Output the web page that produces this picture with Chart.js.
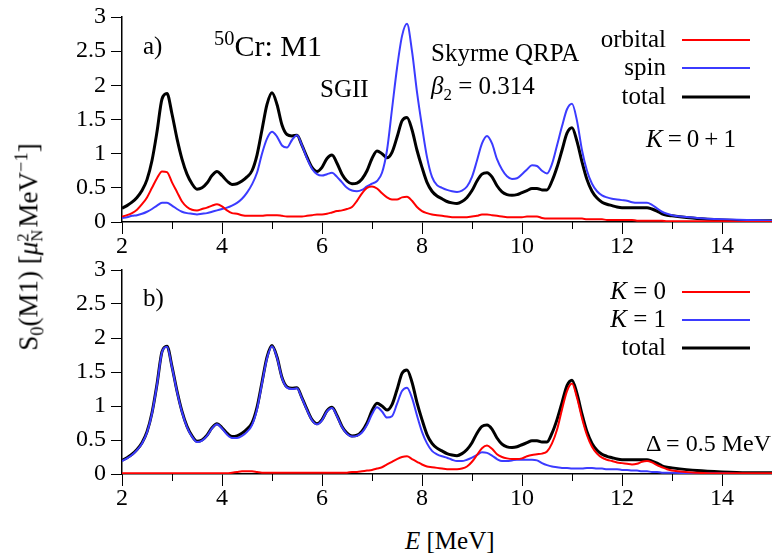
<!DOCTYPE html>
<html>
<head>
<meta charset="utf-8">
<script src="https://cdn.jsdelivr.net/npm/chart.js@4.4.1/dist/chart.umd.min.js"></script>
<style>
  body { margin: 0; background: #fff; font-family: "Liberation Serif", "DejaVu Serif", serif; }
  #wrap { position: relative; width: 772px; height: 557px; overflow: hidden; }
  canvas { position: absolute; left: 0; }
  .t { position: absolute; font-size: 25px; line-height: 25px; white-space: nowrap; color: #000; }
  .t sup, .t sub { font-size: 0.68em; line-height: 0; }
</style>
</head>
<body>
<div id="wrap">
  <canvas id="chartTop" width="772" height="258" style="top:0"></canvas>
  <canvas id="chartBot" width="772" height="257" style="top:253px"></canvas>

  <div class="t" style="left:143px;top:33px">a)</div>
  <div class="t" style="left:214px;top:31px;font-size:30px;line-height:30px"><sup>50</sup>Cr: M1</div>
  <div class="t" style="left:320px;top:76px">SGII</div>
  <div class="t" style="left:431px;top:40px">Skyrme QRPA</div>
  <div class="t" style="left:431px;top:73px"><i>β</i><sub>2</sub> = 0.314</div>
  <div class="t" style="left:646px;top:126px"><i>K</i>&#8201;=&#8201;0&#8201;+&#8201;1</div>
  <div class="t" style="left:143px;top:285px">b)</div>
  <div class="t" style="left:646px;top:431px;font-size:24px">Δ = 0.5 MeV</div>
  <div class="t" style="left:405px;top:528px"><i>E</i> [MeV]</div>
  <div class="t" style="left:30px;top:247px;font-size:27px;line-height:27px;transform:translate(-50%,-50%) rotate(-90deg)">S<sub>0</sub>(M1) [<i>μ</i><span style="display:inline-block;vertical-align:-0.3em;font-size:0.62em;line-height:0.85em;text-align:left">2<br>N</span>&#8202;MeV<sup>−1</sup>]</div>
</div>

<script>
// energie (MeV)
const energia = [2.0,2.1,2.2,2.3,2.4,2.5,2.6,2.7,2.8,2.9,3.0,3.1,3.2,3.3,3.4,3.5,3.6,3.7,3.8,3.9,
  4.0,4.1,4.2,4.3,4.4,4.5,4.6,4.7,4.8,4.9,5.0,5.1,5.2,5.3,5.4,5.5,5.6,5.7,5.8,5.9,
  6.0,6.1,6.2,6.3,6.4,6.5,6.6,6.7,6.8,6.9,7.0,7.1,7.2,7.3,7.4,7.5,7.6,7.7,7.8,7.9,
  8.0,8.1,8.2,8.3,8.4,8.5,8.6,8.7,8.8,8.9,9.0,9.1,9.2,9.3,9.4,9.5,9.6,9.7,9.8,9.9,
  10.0,10.1,10.2,10.3,10.4,10.5,10.6,10.7,10.8,10.9,11.0,11.1,11.2,11.3,11.4,11.5,11.6,11.7,11.8,11.9,
  12.0,12.1,12.2,12.3,12.4,12.5,12.6,12.7,12.8,12.9,13.0,13.5,14.0,14.5,15.0]

// panel a)
const orbital = [0.08,0.10,0.13,0.18,0.26,0.36,0.50,0.64,0.74,0.73,0.58,0.44,0.30,0.22,0.18,0.17,0.19,0.21,0.24,0.26,
  0.23,0.17,0.13,0.12,0.10,0.09,0.09,0.09,0.09,0.10,0.10,0.10,0.09,0.08,0.08,0.08,0.08,0.09,0.10,0.11,
  0.11,0.12,0.14,0.16,0.17,0.19,0.22,0.31,0.42,0.50,0.52,0.49,0.42,0.36,0.33,0.33,0.36,0.37,0.31,0.22,
  0.16,0.13,0.11,0.10,0.09,0.08,0.07,0.07,0.07,0.07,0.08,0.09,0.11,0.11,0.10,0.09,0.08,0.07,0.07,0.07,
  0.07,0.08,0.08,0.08,0.06,0.05,0.05,0.05,0.05,0.05,0.05,0.05,0.05,0.04,0.04,0.04,0.04,0.03,0.03,0.03,
  0.03,0.03,0.03,0.02,0.02,0.02,0.02,0.02,0.02,0.01,0.01,0.01,0.01,0.00,0.00]
const spin = [0.06,0.07,0.09,0.10,0.12,0.15,0.19,0.24,0.28,0.28,0.24,0.19,0.15,0.13,0.12,0.11,0.12,0.13,0.15,0.17,
  0.19,0.21,0.24,0.28,0.34,0.43,0.55,0.72,1.00,1.22,1.32,1.25,1.12,1.09,1.20,1.27,1.12,0.93,0.78,0.70,
  0.68,0.70,0.72,0.66,0.58,0.50,0.46,0.45,0.47,0.52,0.56,0.60,0.72,1.05,1.65,2.25,2.72,2.90,2.50,1.90,
  1.40,0.95,0.66,0.54,0.50,0.47,0.45,0.44,0.46,0.52,0.66,0.90,1.15,1.26,1.15,0.92,0.77,0.67,0.63,0.64,
  0.70,0.77,0.83,0.82,0.75,0.71,0.85,1.12,1.40,1.65,1.73,1.48,1.05,0.75,0.56,0.45,0.39,0.36,0.34,0.33,
  0.32,0.31,0.29,0.28,0.28,0.28,0.25,0.20,0.15,0.12,0.10,0.06,0.04,0.03,0.02]
const total = [0.20,0.24,0.29,0.36,0.46,0.62,0.90,1.32,1.80,1.88,1.58,1.22,0.92,0.70,0.56,0.48,0.50,0.57,0.68,0.74,
  0.68,0.60,0.55,0.56,0.60,0.66,0.75,0.98,1.35,1.72,1.89,1.72,1.42,1.28,1.26,1.27,1.12,0.95,0.80,0.74,
  0.80,0.93,0.98,0.86,0.70,0.60,0.56,0.57,0.63,0.75,0.93,1.04,1.00,0.94,1.02,1.24,1.48,1.53,1.35,1.05,
  0.80,0.58,0.45,0.38,0.34,0.30,0.28,0.27,0.30,0.36,0.46,0.60,0.70,0.72,0.66,0.53,0.44,0.40,0.39,0.40,
  0.43,0.46,0.49,0.49,0.47,0.47,0.60,0.80,1.05,1.30,1.38,1.18,0.88,0.62,0.45,0.35,0.29,0.26,0.24,0.22,
  0.21,0.21,0.21,0.21,0.21,0.21,0.19,0.16,0.12,0.10,0.09,0.05,0.03,0.02,0.02]

// panel b)
const k0 = [0.01,0.01,0.01,0.01,0.01,0.01,0.01,0.01,0.01,0.01,0.01,0.01,0.01,0.01,0.01,0.01,0.01,0.01,0.01,0.01,
  0.01,0.01,0.02,0.03,0.04,0.04,0.04,0.03,0.02,0.02,0.02,0.02,0.02,0.02,0.02,0.02,0.02,0.02,0.02,0.02,
  0.02,0.02,0.02,0.02,0.02,0.02,0.03,0.03,0.04,0.05,0.06,0.08,0.10,0.14,0.18,0.22,0.25,0.26,0.22,0.18,
  0.14,0.11,0.10,0.09,0.08,0.07,0.07,0.07,0.08,0.11,0.18,0.28,0.38,0.42,0.37,0.29,0.25,0.23,0.22,0.22,
  0.23,0.26,0.28,0.29,0.30,0.33,0.45,0.65,0.95,1.22,1.33,1.12,0.82,0.57,0.40,0.30,0.24,0.21,0.19,0.17,
  0.16,0.15,0.14,0.15,0.18,0.19,0.17,0.13,0.10,0.07,0.05,0.02,0.01,0.01,0.01]
const k1 = [0.19,0.23,0.28,0.35,0.45,0.61,0.89,1.31,1.79,1.87,1.57,1.21,0.91,0.69,0.55,0.47,0.49,0.56,0.67,0.73,
  0.67,0.58,0.53,0.53,0.56,0.62,0.72,0.95,1.33,1.70,1.88,1.71,1.41,1.27,1.25,1.26,1.11,0.94,0.79,0.73,
  0.79,0.92,0.97,0.85,0.69,0.59,0.55,0.56,0.61,0.72,0.88,0.98,0.92,0.83,0.85,1.03,1.22,1.27,1.12,0.86,
  0.62,0.45,0.34,0.29,0.26,0.24,0.21,0.19,0.19,0.21,0.24,0.28,0.32,0.31,0.27,0.22,0.19,0.19,0.20,0.21,
  0.21,0.21,0.21,0.20,0.16,0.13,0.11,0.10,0.09,0.09,0.08,0.08,0.08,0.09,0.09,0.08,0.08,0.07,0.07,0.07,
  0.06,0.06,0.05,0.05,0.04,0.04,0.03,0.03,0.02,0.02,0.02,0.01,0.01,0.00,0.00]

const ticksY = [0, 0.5, 1, 1.5, 2, 2.5, 3]
const ticksX = [2, 4, 6, 8, 10, 12, 14]
const minorX = [3, 5, 7, 9, 11, 13]

const rojo = '#ff0000'
const azul = '#3b3bff'
const negro = '#000000'
const fuente = '"Liberation Serif", "DejaVu Serif", serif'

const puntos = (valores) => energia.map((e, i) => ({ x: e, y: valores[i] }))

const serie = (label, valores, color, ancho) => ({
  label: label,
  data: puntos(valores),
  borderColor: color,
  borderWidth: ancho,
  pointRadius: 0,
  cubicInterpolationMode: 'monotone',
  fill: false,
})

// leyenda dibujada a la derecha: texto y luego la muestra de linea
const leyendaLateral = {
  id: 'leyendaLateral',
  afterDraw(chart, args, opts) {
    const ctx = chart.ctx
    ctx.save()
    ctx.textBaseline = 'middle'
    ctx.textAlign = 'right'
    chart.data.datasets.forEach((ds, i) => {
      const y = opts.filas[i]
      let txt = ds.label
      ctx.fillStyle = '#000'
      if (txt.startsWith('K ')) {
        ctx.font = '25px ' + fuente
        const resto = txt.slice(1)
        ctx.fillText(resto, opts.xTexto, y)
        const w = ctx.measureText(resto).width
        ctx.font = 'italic 25px ' + fuente
        ctx.fillText('K', opts.xTexto - w, y)
      } else {
        ctx.font = '25px ' + fuente
        ctx.fillText(txt, opts.xTexto, y)
      }
      ctx.strokeStyle = ds.borderColor
      ctx.lineWidth = ds.borderWidth
      ctx.beginPath()
      ctx.moveTo(opts.x0, y)
      ctx.lineTo(opts.x1, y)
      ctx.stroke()
    })
    ctx.restore()
  }
}

// marcas menores del eje x
const marcasMenores = {
  id: 'marcasMenores',
  afterDraw(chart) {
    const ctx = chart.ctx
    const x = chart.scales.x
    ctx.save()
    ctx.strokeStyle = '#000'
    ctx.lineWidth = 1
    minorX.forEach((v) => {
      const px = Math.round(x.getPixelForValue(v)) + 0.5
      ctx.beginPath()
      ctx.moveTo(px, x.top)
      ctx.lineTo(px, x.top + 7)
      ctx.stroke()
    })
    ctx.restore()
  }
}

const opciones = (filas) => ({
  responsive: false,
  animation: false,
  devicePixelRatio: 1,
  layout: { padding: { top: 10, right: 0, left: 0, bottom: 0 } },
  plugins: {
    legend: { display: false },
    tooltip: { enabled: false },
    leyendaLateral: { filas: filas, xTexto: 666, x0: 682, x1: 750 },
  },
  scales: {
    x: {
      type: 'linear',
      min: 2,
      max: 15,
      afterFit: (s) => { s.height = 36 },
      afterBuildTicks: (s) => { s.ticks = ticksX.map((v) => ({ value: v })) },
      ticks: {
        autoSkip: false,
        maxRotation: 0,
        padding: 1,
        color: '#000',
        font: { family: fuente, size: 24, lineHeight: 1 },
      },
      grid: { drawOnChartArea: false, tickLength: 12, tickColor: '#000', tickWidth: 1 },
      border: { color: '#000', width: 1.5 },
    },
    y: {
      min: 0,
      max: 3,
      afterFit: (s) => { s.width = 122 },
      afterBuildTicks: (s) => { s.ticks = ticksY.map((v) => ({ value: v })) },
      ticks: {
        padding: 5,
        color: '#000',
        font: { family: fuente, size: 24, lineHeight: 1 },
        callback: (v) => String(v),
      },
      grid: { drawOnChartArea: false, tickLength: 11, tickColor: '#000', tickWidth: 1 },
      border: { color: '#000', width: 1.5 },
    },
  },
})

new Chart(document.getElementById('chartTop'), {
  type: 'line',
  data: {
    datasets: [
      serie('orbital', orbital, rojo, 2),
      serie('spin', spin, azul, 2),
      serie('total', total, negro, 3),
    ],
  },
  options: opciones([40, 68, 97]),
  plugins: [leyendaLateral, marcasMenores],
})

new Chart(document.getElementById('chartBot'), {
  type: 'line',
  data: {
    datasets: [
      serie('K = 0', k0, rojo, 2),
      serie('K = 1', k1, azul, 2),
      serie('total', total, negro, 3),
    ],
  },
  options: opciones([292 - 253, 320 - 253, 348 - 253]),
  plugins: [leyendaLateral, marcasMenores],
})
</script>
</body>
</html>
